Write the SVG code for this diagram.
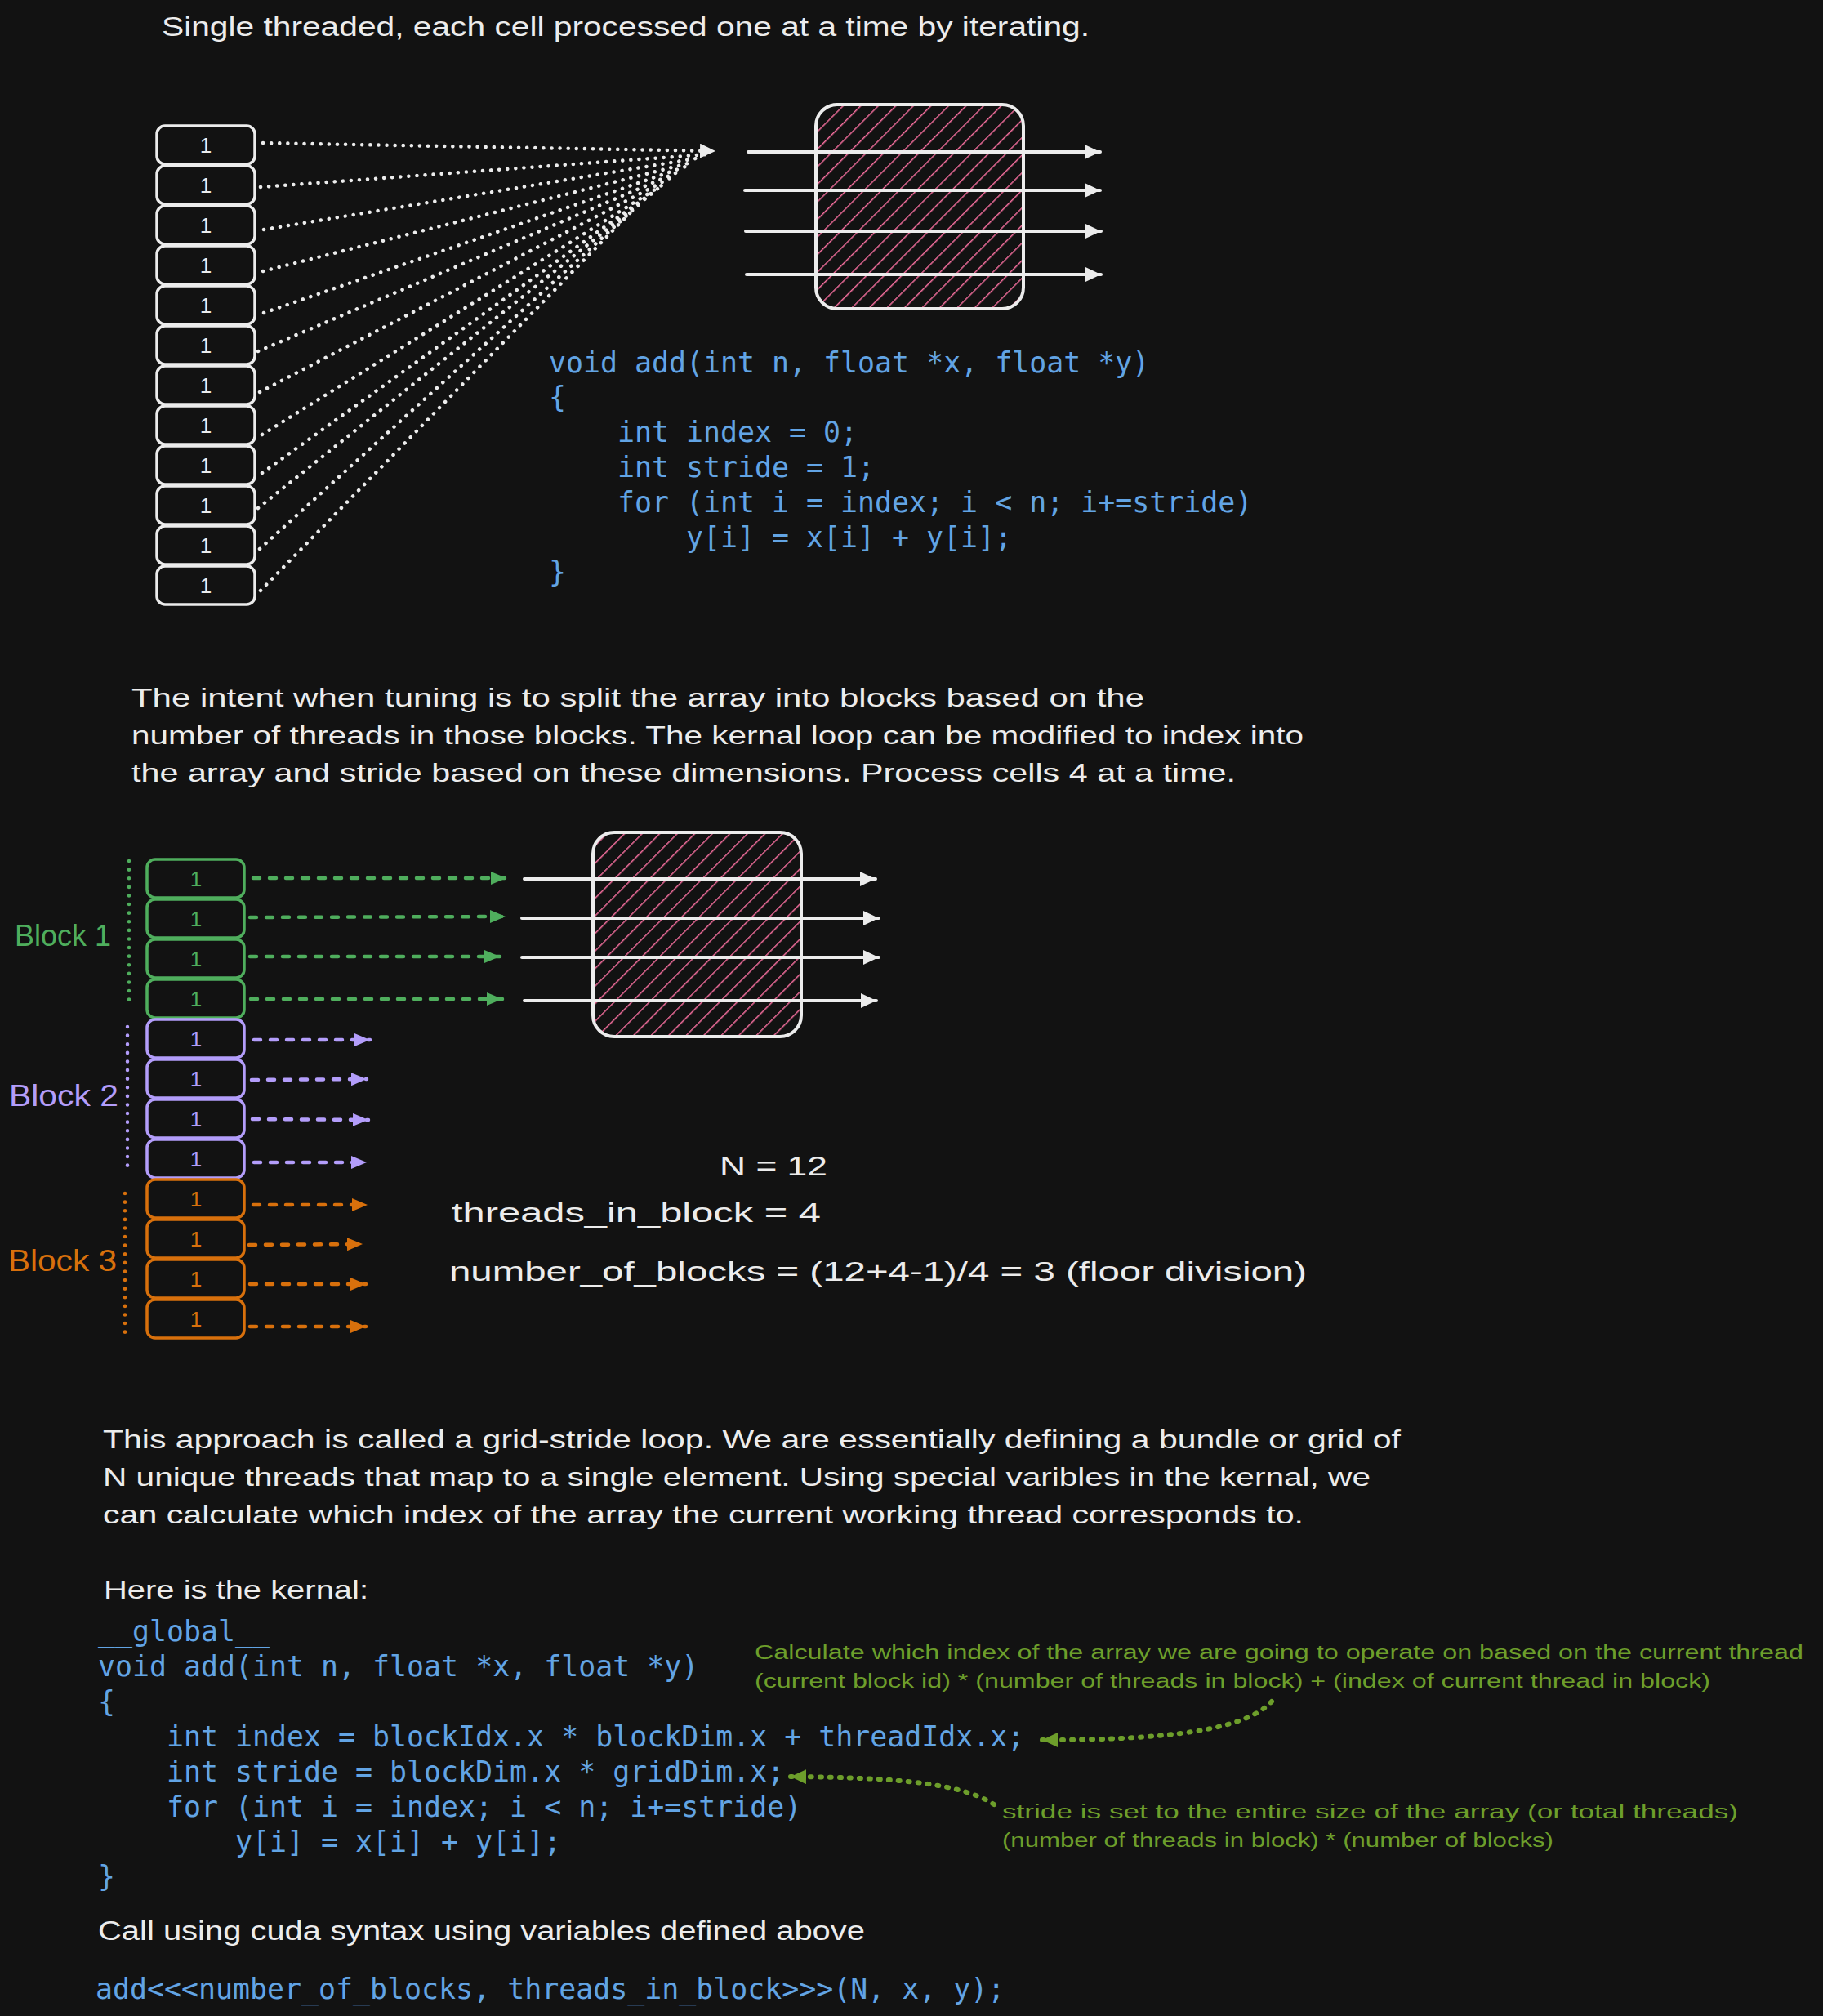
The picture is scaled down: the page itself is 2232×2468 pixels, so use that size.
<svg xmlns="http://www.w3.org/2000/svg" width="2232" height="2468" viewBox="0 0 2232 2468">
<style>
.hand{font-family:"Liberation Sans",Arial,sans-serif;fill:#ececec}
.code{font-family:"DejaVu Sans Mono","Liberation Mono",monospace;font-size:34.9px;fill:#62a4e4}
.cell{fill:none;stroke:#ececec;stroke-width:3.5}
.num{font-family:"Liberation Sans",Arial,sans-serif;font-size:26px;text-anchor:middle}
.box{fill:url(#hatch);stroke:#ececec;stroke-width:4}
.wl{stroke:#ececec;stroke-width:4;stroke-linecap:round;fill:none}
.dot{stroke:#ececec;stroke-width:4.5;stroke-linecap:round;stroke-dasharray:0.1 10;fill:none}
.dash{stroke-width:4.5;stroke-linecap:round;stroke-dasharray:8 12;fill:none}
.vdot{stroke-width:4.5;stroke-linecap:round;stroke-dasharray:0.1 10.5;fill:none}
.g{stroke:#4fae5d;fill:#4fae5d}
.p{stroke:#b39dfa;fill:#b39dfa}
.o{stroke:#d8700c;fill:#d8700c}
.ann{font-family:"Liberation Sans",Arial,sans-serif;font-size:23px;fill:#6d9e2b}
.adot{stroke:#6d9e2b;stroke-width:6;stroke-linecap:round;stroke-dasharray:2 10;fill:none}
</style>
<defs>
<pattern id="hatch" patternUnits="userSpaceOnUse" width="15.2" height="15.2" patternTransform="rotate(45)">
<line x1="0" y1="0" x2="0" y2="15.2" stroke="#f26d9c" stroke-width="3"/>
</pattern>
<marker id="aw" markerUnits="userSpaceOnUse" markerWidth="22" markerHeight="22" refX="19" refY="9" orient="auto"><path d="M0,0 L19,9 L0,18 Z" fill="#ececec"/></marker>
<marker id="ag" markerUnits="userSpaceOnUse" markerWidth="22" markerHeight="22" refX="19" refY="8" orient="auto"><path d="M0,0 L19,8 L0,16 Z" fill="#4fae5d"/></marker>
<marker id="ap" markerUnits="userSpaceOnUse" markerWidth="22" markerHeight="22" refX="19" refY="8" orient="auto"><path d="M0,0 L19,8 L0,16 Z" fill="#b39dfa"/></marker>
<marker id="ao" markerUnits="userSpaceOnUse" markerWidth="22" markerHeight="22" refX="19" refY="8" orient="auto"><path d="M0,0 L19,8 L0,16 Z" fill="#d8700c"/></marker>
<marker id="aa" markerUnits="userSpaceOnUse" markerWidth="22" markerHeight="22" refX="19" refY="9" orient="auto"><path d="M0,0 L19,9 L0,18 Z" fill="#6d9e2b"/></marker>
</defs>
<rect x="0" y="0" width="2232" height="2468" fill="#121212"/>

<g id="title"><text class="hand" x="198" y="44" font-size="34" textLength="1136" lengthAdjust="spacingAndGlyphs">Single threaded, each cell processed one at a time by iterating.</text></g>

<g id="array1">
<g id="a1c1"><rect class="cell" x="192" y="154" width="120" height="47" rx="10"/><text class="num hand" x="252" y="187">1</text></g>
<g id="a1c2"><rect class="cell" x="192" y="203" width="120" height="47" rx="10"/><text class="num hand" x="252" y="236">1</text></g>
<g id="a1c3"><rect class="cell" x="192" y="252" width="120" height="47" rx="10"/><text class="num hand" x="252" y="285">1</text></g>
<g id="a1c4"><rect class="cell" x="192" y="301" width="120" height="47" rx="10"/><text class="num hand" x="252" y="334">1</text></g>
<g id="a1c5"><rect class="cell" x="192" y="350" width="120" height="47" rx="10"/><text class="num hand" x="252" y="383">1</text></g>
<g id="a1c6"><rect class="cell" x="192" y="399" width="120" height="47" rx="10"/><text class="num hand" x="252" y="432">1</text></g>
<g id="a1c7"><rect class="cell" x="192" y="448" width="120" height="47" rx="10"/><text class="num hand" x="252" y="481">1</text></g>
<g id="a1c8"><rect class="cell" x="192" y="497" width="120" height="47" rx="10"/><text class="num hand" x="252" y="530">1</text></g>
<g id="a1c9"><rect class="cell" x="192" y="546" width="120" height="47" rx="10"/><text class="num hand" x="252" y="579">1</text></g>
<g id="a1c10"><rect class="cell" x="192" y="595" width="120" height="47" rx="10"/><text class="num hand" x="252" y="628">1</text></g>
<g id="a1c11"><rect class="cell" x="192" y="644" width="120" height="47" rx="10"/><text class="num hand" x="252" y="677">1</text></g>
<g id="a1c12"><rect class="cell" x="192" y="693" width="120" height="47" rx="10"/><text class="num hand" x="252" y="726">1</text></g>
</g>

<g id="proc1"><rect class="box" x="999" y="128" width="254" height="250" rx="26"/></g>

<g id="code1">
<text class="code" x="672" y="456">void add(int n, float *x, float *y)</text>
<text class="code" x="672" y="498">{</text>
<text class="code" x="756" y="541">int index = 0;</text>
<text class="code" x="756" y="584">int stride = 1;</text>
<text class="code" x="756" y="627">for (int i = index; i &lt; n; i+=stride)</text>
<text class="code" x="840" y="670">y[i] = x[i] + y[i];</text>
<text class="code" x="672" y="712">}</text>
</g>

<g id="para2">
<text class="hand" x="161" y="865" font-size="32" textLength="1240" lengthAdjust="spacingAndGlyphs">The intent when tuning is to split the array into blocks based on the</text>
<text class="hand" x="161" y="911" font-size="32" textLength="1435" lengthAdjust="spacingAndGlyphs">number of threads in those blocks. The kernal loop can be modified to index into</text>
<text class="hand" x="161" y="957" font-size="32" textLength="1352" lengthAdjust="spacingAndGlyphs">the array and stride based on these dimensions. Process cells 4 at a time.</text>
</g>

<g id="labels">
<text x="18" y="1158" font-size="36" textLength="118" lengthAdjust="spacingAndGlyphs" style="font-family:'Liberation Sans',Arial,sans-serif;fill:#4fae5d">Block 1</text>
<text x="11" y="1354" font-size="36" textLength="134" lengthAdjust="spacingAndGlyphs" style="font-family:'Liberation Sans',Arial,sans-serif;fill:#b39dfa">Block 2</text>
<text x="10" y="1556" font-size="36" textLength="133" lengthAdjust="spacingAndGlyphs" style="font-family:'Liberation Sans',Arial,sans-serif;fill:#d8700c">Block 3</text>
</g>

<g id="array2">
<g id="b1c1"><rect class="cell" style="stroke:#4fae5d" x="180" y="1052" width="119" height="47" rx="10"/><text class="num" style="fill:#4fae5d" x="240" y="1085">1</text></g>
<g id="b1c2"><rect class="cell" style="stroke:#4fae5d" x="180" y="1101" width="119" height="47" rx="10"/><text class="num" style="fill:#4fae5d" x="240" y="1134">1</text></g>
<g id="b1c3"><rect class="cell" style="stroke:#4fae5d" x="180" y="1150" width="119" height="47" rx="10"/><text class="num" style="fill:#4fae5d" x="240" y="1183">1</text></g>
<g id="b1c4"><rect class="cell" style="stroke:#4fae5d" x="180" y="1199" width="119" height="47" rx="10"/><text class="num" style="fill:#4fae5d" x="240" y="1232">1</text></g>
<g id="b2c1"><rect class="cell" style="stroke:#b39dfa" x="180" y="1248" width="119" height="47" rx="10"/><text class="num" style="fill:#b39dfa" x="240" y="1281">1</text></g>
<g id="b2c2"><rect class="cell" style="stroke:#b39dfa" x="180" y="1297" width="119" height="47" rx="10"/><text class="num" style="fill:#b39dfa" x="240" y="1330">1</text></g>
<g id="b2c3"><rect class="cell" style="stroke:#b39dfa" x="180" y="1346" width="119" height="47" rx="10"/><text class="num" style="fill:#b39dfa" x="240" y="1379">1</text></g>
<g id="b2c4"><rect class="cell" style="stroke:#b39dfa" x="180" y="1395" width="119" height="47" rx="10"/><text class="num" style="fill:#b39dfa" x="240" y="1428">1</text></g>
<g id="b3c1"><rect class="cell" style="stroke:#d8700c" x="180" y="1444" width="119" height="47" rx="10"/><text class="num" style="fill:#d8700c" x="240" y="1477">1</text></g>
<g id="b3c2"><rect class="cell" style="stroke:#d8700c" x="180" y="1493" width="119" height="47" rx="10"/><text class="num" style="fill:#d8700c" x="240" y="1526">1</text></g>
<g id="b3c3"><rect class="cell" style="stroke:#d8700c" x="180" y="1542" width="119" height="47" rx="10"/><text class="num" style="fill:#d8700c" x="240" y="1575">1</text></g>
<g id="b3c4"><rect class="cell" style="stroke:#d8700c" x="180" y="1591" width="119" height="47" rx="10"/><text class="num" style="fill:#d8700c" x="240" y="1624">1</text></g>
</g>

<g id="proc2"><rect class="box" x="726" y="1019" width="255" height="250" rx="26"/></g>

<g id="formulas">
<text class="hand" x="881" y="1439" font-size="33" textLength="132" lengthAdjust="spacingAndGlyphs">N = 12</text>
<text class="hand" x="553" y="1496" font-size="33" textLength="452" lengthAdjust="spacingAndGlyphs">threads_in_block = 4</text>
<text class="hand" x="550" y="1568" font-size="33" textLength="1050" lengthAdjust="spacingAndGlyphs">number_of_blocks = (12+4-1)/4 = 3 (floor division)</text>
</g>

<g id="para3">
<text class="hand" x="126" y="1773" font-size="32" textLength="1589" lengthAdjust="spacingAndGlyphs">This approach is called a grid-stride loop. We are essentially defining a bundle or grid of</text>
<text class="hand" x="126" y="1819" font-size="32" textLength="1552" lengthAdjust="spacingAndGlyphs">N unique threads that map to a single element. Using special varibles in the kernal, we</text>
<text class="hand" x="126" y="1865" font-size="32" textLength="1470" lengthAdjust="spacingAndGlyphs">can calculate which index of the array the current working thread corresponds to.</text>
<text class="hand" x="127" y="1957" font-size="32" textLength="324" lengthAdjust="spacingAndGlyphs">Here is the kernal:</text>
</g>

<g id="code2">
<text class="code" x="120" y="2009">__global__</text>
<text class="code" x="120" y="2052">void add(int n, float *x, float *y)</text>
<text class="code" x="120" y="2095">{</text>
<text class="code" x="204" y="2138">int index = blockIdx.x * blockDim.x + threadIdx.x;</text>
<text class="code" x="204" y="2181">int stride = blockDim.x * gridDim.x;</text>
<text class="code" x="204" y="2224">for (int i = index; i &lt; n; i+=stride)</text>
<text class="code" x="288" y="2267">y[i] = x[i] + y[i];</text>
<text class="code" x="120" y="2309">}</text>
</g>

<g id="call">
<text class="hand" x="120" y="2375" font-size="33" textLength="939" lengthAdjust="spacingAndGlyphs">Call using cuda syntax using variables defined above</text>
<text class="code" x="117" y="2447">add&lt;&lt;&lt;number_of_blocks, threads_in_block&gt;&gt;&gt;(N, x, y);</text>
</g>

<g id="notes">
<text class="ann" x="924" y="2031" textLength="1284" lengthAdjust="spacingAndGlyphs">Calculate which index of the array we are going to operate on based on the current thread</text>
<text class="ann" x="924" y="2066" textLength="1170" lengthAdjust="spacingAndGlyphs">(current block id) * (number of threads in block) + (index of current thread in block)</text>
<text class="ann" x="1227" y="2226" textLength="901" lengthAdjust="spacingAndGlyphs">stride is set to the entire size of the array (or total threads)</text>
<text class="ann" x="1227" y="2261" textLength="675" lengthAdjust="spacingAndGlyphs">(number of threads in block) * (number of blocks)</text>
</g>

<g id="connectors">
<path class="dot" d="M322,175 L876,185" marker-end="url(#aw)"/>
<path class="dot" d="M319,229 L866,189"/>
<path class="dot" d="M323,281 L858,193"/>
<path class="dot" d="M322,332 L850,198"/>
<path class="dot" d="M323,383 L842,203"/>
<path class="dot" d="M316,430 L834,209"/>
<path class="dot" d="M318,480 L826,215"/>
<path class="dot" d="M321,532 L818,222"/>
<path class="dot" d="M321,579 L808,229"/>
<path class="dot" d="M316,622 L798,237"/>
<path class="dot" d="M318,672 L787,246"/>
<path class="dot" d="M319,723 L776,256"/>

<path class="wl" d="M916,186 L1347,186" marker-end="url(#aw)"/>
<path class="wl" d="M912,233 L1347,233" marker-end="url(#aw)"/>
<path class="wl" d="M913,283 L1348,283" marker-end="url(#aw)"/>
<path class="wl" d="M914,336 L1348,336" marker-end="url(#aw)"/>

<path class="vdot g" style="fill:none" d="M158,1054 L158,1228"/>
<path class="vdot p" style="fill:none" d="M156,1257 L156,1433"/>
<path class="vdot o" style="fill:none" d="M153,1461 L153,1637"/>

<path class="dash g" style="fill:none" d="M310,1075 L620,1075" marker-end="url(#ag)"/>
<path class="dash g" style="fill:none" d="M306,1123 L619,1122" marker-end="url(#ag)"/>
<path class="dash g" style="fill:none" d="M306,1171 L612,1171" marker-end="url(#ag)"/>
<path class="dash g" style="fill:none" d="M307,1223 L615,1223" marker-end="url(#ag)"/>
<path class="dash p" style="fill:none" d="M311,1273 L453,1273" marker-end="url(#ap)"/>
<path class="dash p" style="fill:none" d="M308,1322 L449,1321" marker-end="url(#ap)"/>
<path class="dash p" style="fill:none" d="M309,1370 L451,1371" marker-end="url(#ap)"/>
<path class="dash p" style="fill:none" d="M311,1423 L449,1423" marker-end="url(#ap)"/>
<path class="dash o" style="fill:none" d="M310,1475 L450,1475" marker-end="url(#ao)"/>
<path class="dash o" style="fill:none" d="M305,1524 L444,1523" marker-end="url(#ao)"/>
<path class="dash o" style="fill:none" d="M306,1572 L448,1572" marker-end="url(#ao)"/>
<path class="dash o" style="fill:none" d="M306,1624 L448,1624" marker-end="url(#ao)"/>

<path class="wl" d="M642,1076 L1072,1076" marker-end="url(#aw)"/>
<path class="wl" d="M639,1124 L1076,1124" marker-end="url(#aw)"/>
<path class="wl" d="M639,1172 L1076,1172" marker-end="url(#aw)"/>
<path class="wl" d="M642,1225 L1073,1225" marker-end="url(#aw)"/>

<path class="adot" d="M1557,2083 C1525,2118 1430,2130 1276,2130" marker-end="url(#aa)"/>
<path class="adot" d="M1217,2209 C1180,2185 1110,2176 968,2175" marker-end="url(#aa)"/>
</g>
</svg>
